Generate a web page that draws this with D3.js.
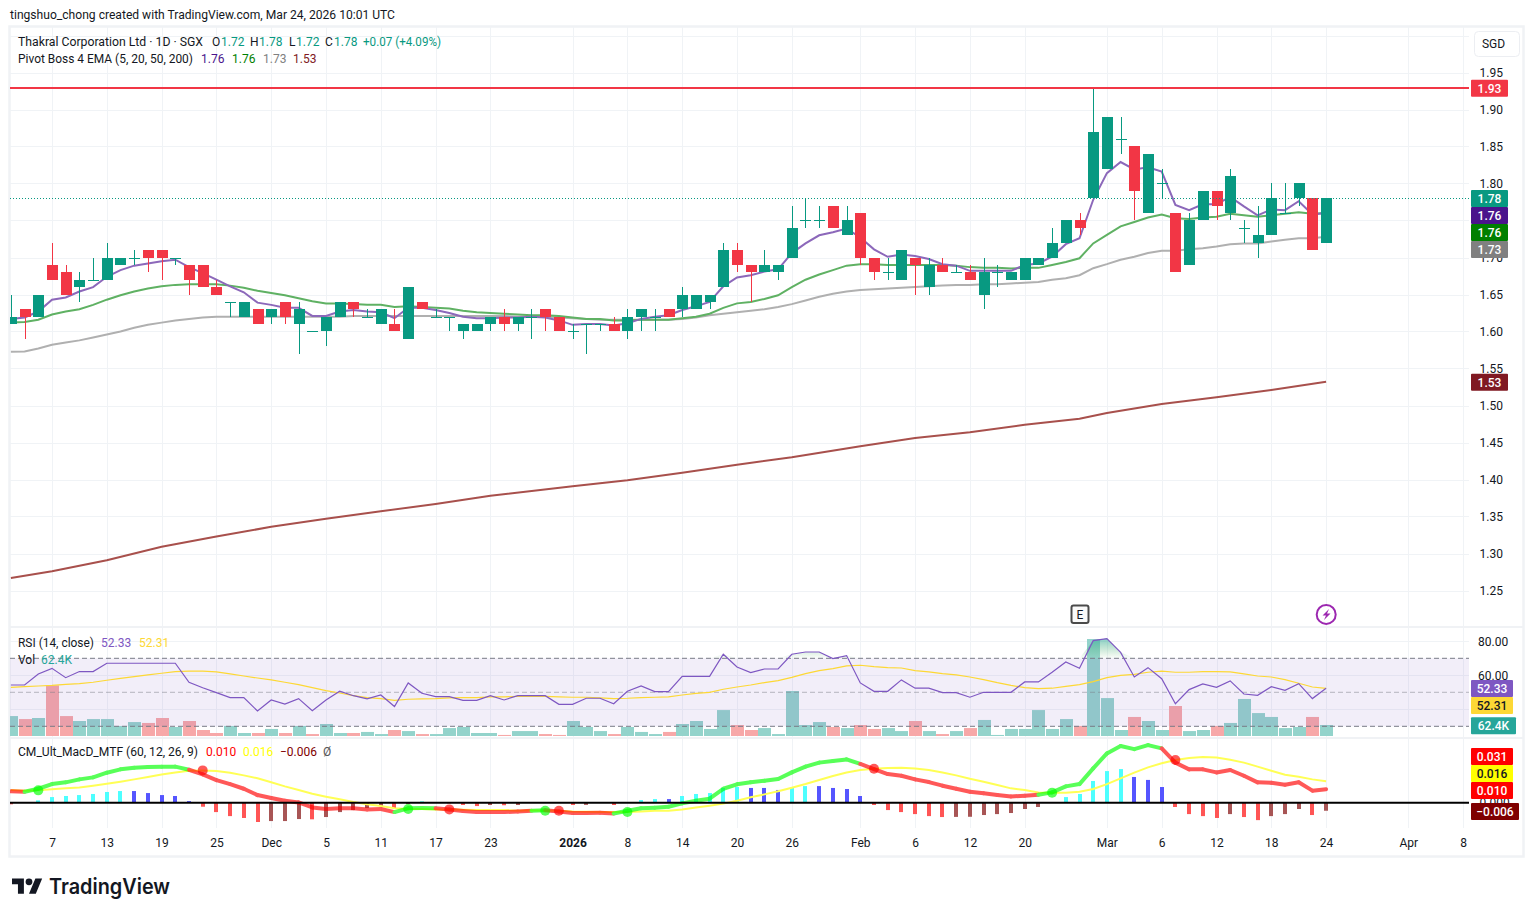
<!DOCTYPE html>
<html>
<head>
<meta charset="utf-8">
<script src="https://cdn.jsdelivr.net/npm/d3@7/dist/d3.min.js"></script>
<style>
html,body{margin:0;padding:0;background:#fff;}
svg{display:block;}
text{font-family:Roboto,"Noto Sans",sans-serif;font-size:12px;fill:#131722;}
</style>
</head>
<body>
<svg id="c" width="1534" height="917"></svg>
<script>
const opens=[1.61,1.63,1.62,1.69,1.68,1.66,1.67,1.67,1.69,1.70,1.71,1.71,1.70,1.69,1.69,1.66,1.64,1.62,1.63,1.62,1.64,1.61,1.60,1.60,1.62,1.64,1.62,1.61,1.61,1.59,1.64,1.62,1.62,1.60,1.60,1.61,1.62,1.61,1.62,1.63,1.62,1.60,1.61,1.61,1.61,1.60,1.62,1.62,1.63,1.63,1.63,1.64,1.66,1.71,1.69,1.68,1.68,1.70,1.75,1.75,1.77,1.73,1.76,1.70,1.68,1.67,1.70,1.66,1.69,1.68,1.68,1.65,1.68,1.67,1.67,1.69,1.70,1.72,1.75,1.78,1.82,1.86,1.85,1.76,1.80,1.76,1.69,1.75,1.79,1.76,1.74,1.72,1.73,1.76,1.78,1.78,1.72];
const closes=[1.62,1.62,1.65,1.67,1.65,1.67,1.67,1.70,1.70,1.70,1.70,1.70,1.70,1.67,1.66,1.65,1.64,1.64,1.61,1.63,1.62,1.63,1.60,1.62,1.64,1.63,1.62,1.63,1.60,1.66,1.63,1.62,1.62,1.61,1.61,1.62,1.61,1.62,1.62,1.62,1.60,1.60,1.61,1.61,1.60,1.62,1.63,1.62,1.62,1.65,1.65,1.65,1.71,1.69,1.68,1.69,1.69,1.74,1.75,1.75,1.74,1.75,1.70,1.68,1.68,1.71,1.69,1.69,1.68,1.68,1.67,1.68,1.68,1.68,1.70,1.70,1.72,1.75,1.74,1.87,1.89,1.86,1.79,1.84,1.80,1.68,1.75,1.79,1.77,1.81,1.74,1.73,1.78,1.76,1.80,1.71,1.78];
const highs=[1.65,1.63,1.65,1.72,1.69,1.68,1.70,1.72,1.70,1.71,1.71,1.71,1.70,1.69,1.69,1.67,1.64,1.64,1.63,1.63,1.64,1.64,1.60,1.62,1.64,1.64,1.63,1.63,1.63,1.66,1.64,1.63,1.62,1.61,1.61,1.62,1.63,1.62,1.63,1.63,1.62,1.61,1.61,1.61,1.62,1.63,1.63,1.63,1.63,1.66,1.65,1.65,1.72,1.72,1.69,1.71,1.69,1.77,1.78,1.77,1.77,1.77,1.76,1.70,1.70,1.71,1.70,1.70,1.70,1.69,1.69,1.70,1.69,1.68,1.70,1.70,1.74,1.75,1.76,1.93,1.89,1.89,1.85,1.84,1.82,1.76,1.76,1.79,1.79,1.82,1.75,1.77,1.80,1.80,1.80,1.78,1.78];
const lows=[1.61,1.59,1.62,1.67,1.65,1.64,1.67,1.67,1.69,1.69,1.68,1.67,1.69,1.65,1.66,1.65,1.62,1.62,1.61,1.61,1.61,1.57,1.60,1.58,1.62,1.62,1.62,1.61,1.60,1.59,1.63,1.62,1.60,1.59,1.60,1.60,1.60,1.60,1.59,1.60,1.60,1.59,1.57,1.60,1.60,1.59,1.60,1.60,1.62,1.62,1.63,1.63,1.66,1.68,1.64,1.68,1.67,1.70,1.74,1.74,1.74,1.73,1.69,1.67,1.67,1.67,1.65,1.65,1.68,1.68,1.67,1.63,1.66,1.67,1.67,1.69,1.70,1.72,1.73,1.78,1.82,1.84,1.75,1.76,1.78,1.68,1.69,1.75,1.75,1.75,1.72,1.70,1.73,1.76,1.77,1.71,1.72];
const ema5=[1.617,1.619,1.627,1.643,1.646,1.654,1.660,1.674,1.683,1.689,1.692,1.695,1.697,1.687,1.679,1.670,1.661,1.653,1.639,1.636,1.632,1.632,1.621,1.621,1.627,1.629,1.627,1.626,1.618,1.632,1.632,1.629,1.625,1.620,1.618,1.618,1.619,1.619,1.620,1.619,1.615,1.609,1.610,1.610,1.608,1.611,1.617,1.620,1.622,1.629,1.634,1.640,1.661,1.673,1.676,1.681,1.684,1.706,1.719,1.730,1.734,1.739,1.727,1.711,1.701,1.704,1.702,1.698,1.691,1.689,1.682,1.682,1.682,1.682,1.690,1.692,1.701,1.718,1.726,1.778,1.814,1.829,1.819,1.822,1.816,1.771,1.764,1.772,1.772,1.782,1.769,1.757,1.765,1.764,1.776,1.758,1.760];
const ema20=[1.612,1.613,1.616,1.623,1.627,1.630,1.636,1.643,1.649,1.654,1.658,1.661,1.663,1.664,1.664,1.664,1.662,1.659,1.655,1.652,1.649,1.645,1.641,1.638,1.638,1.637,1.636,1.636,1.633,1.634,1.633,1.632,1.631,1.628,1.626,1.625,1.624,1.623,1.622,1.622,1.621,1.619,1.617,1.617,1.615,1.615,1.616,1.616,1.616,1.618,1.620,1.624,1.632,1.638,1.640,1.644,1.649,1.660,1.670,1.677,1.683,1.689,1.691,1.691,1.690,1.690,1.690,1.690,1.690,1.689,1.687,1.686,1.686,1.685,1.686,1.686,1.690,1.694,1.699,1.719,1.7305,1.742,1.748,1.754,1.758,1.753,1.752,1.754,1.755,1.759,1.757,1.755,1.757,1.759,1.761,1.759,1.760];
const ema50=[1.5725,1.573,1.577,1.582,1.585,1.588,1.592,1.596,1.600,1.605,1.609,1.612,1.615,1.617,1.619,1.620,1.620,1.620,1.620,1.620,1.620,1.620,1.620,1.620,1.620,1.621,1.621,1.621,1.621,1.621,1.621,1.621,1.621,1.621,1.621,1.621,1.621,1.620,1.620,1.620,1.619,1.618,1.617,1.616,1.616,1.616,1.616,1.616,1.616,1.617,1.619,1.622,1.624,1.626,1.628,1.630,1.633,1.637,1.642,1.647,1.651,1.654,1.656,1.657,1.658,1.659,1.660,1.661,1.662,1.663,1.663,1.664,1.664,1.665,1.666,1.667,1.670,1.672,1.676,1.6855,1.691,1.697,1.701,1.706,1.709,1.709,1.711,1.7125,1.715,1.718,1.719,1.719,1.7215,1.724,1.726,1.726,1.728];
const ema200Bars=[0,3,7,11,15,19,23,27,31,35,41,45,49,53,57,62,66,70,74,78,80,84,88,92,96];
const ema200=[1.267,1.276,1.291,1.309,1.323,1.336,1.347,1.357,1.367,1.378,1.391,1.399,1.409,1.420,1.430,1.445,1.456,1.464,1.474,1.482,1.490,1.502,1.511,1.521,1.532];
const rsi=[54.3,54.3,60.8,64.1,58.6,62.2,62.2,67.1,67.1,67.1,67.1,67.1,67.1,55.9,52.7,49.8,46.9,46.9,39.0,45.5,43.1,46.3,39.2,45.5,50.6,48.0,46.1,48.4,41.6,55.5,49.4,47.5,47.5,45.3,45.3,48.0,45.5,48.0,48.0,48.0,42.9,42.9,46.5,46.5,43.3,50.6,53.7,50.4,50.4,59.4,59.4,59.4,72.4,64.9,61.6,63.7,63.7,72.4,73.7,73.7,69.8,71.6,55.5,50.6,50.6,57.3,52.4,52.4,49.8,49.8,47.1,50.0,50.0,50.0,56.1,56.1,61.8,67.8,64.1,80.4,81.6,73.5,59.0,64.5,58.0,43.3,51.6,54.9,52.9,56.7,49.0,48.2,53.3,51.2,55.1,46.3,52.33];
const rsiMa=[52.9,53.3,53.7,54.1,54.7,55.1,55.9,57.1,58.2,59.2,60.2,61.2,62.2,62.4,62.4,62.0,60.8,59.6,58.4,57.3,55.9,54.5,52.7,51.0,49.6,48.0,46.9,46.3,45.3,45.9,46.1,46.3,46.7,46.9,46.9,47.3,47.3,47.6,47.6,47.6,47.3,47.1,47.1,46.7,46.3,46.5,46.9,47.1,47.3,48.4,49.4,50.0,51.8,53.1,54.3,55.7,56.9,58.8,61.0,62.7,63.9,65.5,65.9,65.1,64.5,64.3,62.7,62.0,61.0,60.2,59.0,57.5,55.7,54.1,52.7,52.2,52.4,53.5,54.5,56.3,58.6,60.0,60.6,61.8,62.4,61.8,61.8,62.2,62.2,62.0,60.8,59.6,59.0,57.5,55.3,53.1,52.31];
const volumeK=[113,96,102,287,113,85,96,96,57,79,74,102,51,85,34,17,57,17,17,40,17,57,11,68,17,17,23,11,34,28,11,11,45,51,17,17,6,28,28,11,6,85,51,28,11,51,23,11,23,68,85,40,147,62,34,45,11,255,62,79,51,45,62,40,45,28,85,28,11,28,45,91,6,40,40,147,40,96,57,550,215,34,108,85,34,170,28,34,57,74,210,130,108,45,51,108,62.4];
const volumeDownDoji=[22];
const macd=[8.5,8.2,10.4,13.9,15.2,17.4,18.9,22.4,24.9,26.1,26.6,26.9,26.9,24.6,21.1,16.9,13.9,10.4,5.7,3.5,1.5,0.2,-3.5,-4.7,-4.2,-4.2,-5.0,-4.7,-7.0,-4.2,-4.0,-4.2,-5.0,-6.2,-7.0,-7.0,-7.0,-6.5,-6.0,-5.7,-6.5,-7.7,-7.7,-7.5,-8.0,-6.0,-4.2,-3.7,-3.0,-0.5,1.5,3.0,10.4,13.7,15.2,16.4,17.7,22.6,26.9,29.9,31.1,32.3,28.9,25.1,21.4,20.1,17.4,15.4,12.7,10.4,8.2,7.0,5.7,4.7,5.2,6.0,7.7,12.2,13.9,25.6,36.8,42.3,40.0,43.0,40.5,29.9,24.9,24.9,22.6,24.4,20.1,15.2,14.9,13.4,15.2,9.0,10.0];
const macdSignal=[9.5,9.0,9.2,10,10.7,11.4,12.7,14.2,15.7,17.4,19.2,21.1,22.6,23.9,24.1,23.6,22.4,20.4,18.2,15.2,12.2,9.5,6.7,4.5,2.5,0.5,-1.2,-2.5,-4.2,-4.7,-4.7,-5,-5,-5.2,-5.5,-5.5,-5.5,-6,-5.7,-6,-6,-6.5,-6.7,-7,-7,-7,-6.5,-6,-6,-5,-3.5,-2.2,-0.7,1.5,4,6.2,8.5,11.2,13.9,16.9,19.9,22.6,24.4,25.4,25.9,26.1,25.6,24.4,22.6,20.4,17.9,15.7,13.2,10.7,9.5,7.7,7.5,7.5,8.2,10.2,13.9,18.2,22.4,26.4,29.4,31.8,33.3,34.1,33.8,32.1,29.9,26.9,23.9,20.9,19.4,17.4,16];
const macdHist=[-1.2,0,1.7,4.2,5,5.7,6.5,8,8.7,8.7,7.2,5.7,5,1.2,-3,-7,-10,-11.4,-14.4,-13.7,-13.7,-12.2,-12.4,-10.7,-7,-5.5,-4,-2.5,-4,-1,1,0.3,-0.5,-1.7,-2.5,-1.7,-1.9,-1.7,0,0,0,-1.7,-1.6,0,-1.7,0,2,2.7,2.7,5,6.5,7.2,11,11.7,11,11,9.5,11.7,12.4,12.4,11,10.2,5,-1.7,-5.5,-7,-8.5,-10,-10.7,-10.6,-10.5,-9.2,-8.5,-7.7,-4.7,-3.2,0,4.2,6.5,16.2,23.6,25.1,19.2,17,11.7,-3.2,-8.5,-10,-11.4,-8.5,-10.7,-13,-10,-8.5,-4.7,-9.2,-6];
const crossUp=[2,29,39,45,76];
const crossDown=[14,32,40,63,85];
const timeTickBars=[3,7,11,15,19,23,27,31,35,41,45,49,53,57,62,66,70,74,80,84,88,92,96,102,106];
const timeTickLabels=["7","13","19","25","Dec","5","11","17","23","2026","8","14","20","26","Feb","6","12","20","Mar","6","12","18","24","Apr","8"];
const priceTicks=[1.25,1.30,1.35,1.40,1.45,1.50,1.55,1.60,1.65,1.70,1.75,1.80,1.85,1.90,1.95];
const priceGrid=[2.00,...priceTicks];
const rsiTicks=[60,80];
const rsiGrid=[40,60,80];
const resistance=1.93;
const lastClose=1.78;
const priceLabels=[["1.93","#f23645"],["1.78","#089981"],["1.76","#4a148c"],["1.76","#008000"],["1.73","#808080"],["1.53","#801922"]];
const rsiLabels=[["52.33","#7e57c2","#fff"],["52.31","#fdd835","#131722"]];
const macdLabels=[["0.031","#ff0000","#fff"],["0.016","#ffff00","#131722"],["0.010","#ff0000","#fff"],["\u22120.006","#7f0000","#fff"]];

const green="#089981",red="#f23645";
const svg=d3.select("#c");
const L=10,R=1469,T=27,B=857;
const n=closes.length;
const x=d3.scaleLinear().domain([0,106]).range([10.9,1463.1]);
const y=d3.scaleLinear().domain([1.25,1.95]).range([590.5,72.5]);
const yR=d3.scaleLinear().domain([30,70]).range([726.3,658.3]);
const yV=d3.scaleLinear().domain([0,550]).range([736,639]);
const yM=d3.scaleLinear().domain([0,0.01]).range([802.7,789.3]);
const cx=i=>Math.round(x(i))+0.5;

const defs=svg.append("defs");
defs.append("clipPath").attr("id","pane").append("rect").attr("x",L).attr("y",T).attr("width",R-L).attr("height",B-T);
const grad=defs.append("linearGradient").attr("id","ob").attr("x1",0).attr("x2",0).attr("y1",0).attr("y2",1);
grad.append("stop").attr("offset","0%").attr("stop-color","#26a69a").attr("stop-opacity",0.55);
grad.append("stop").attr("offset","100%").attr("stop-color","#4caf50").attr("stop-opacity",0.02);

svg.append("rect").attr("x",9.5).attr("y",26.5).attr("width",1514).attr("height",830).attr("fill","none").attr("stroke","#f0f2f5").attr("stroke-width",2.5);

const pane=svg.append("g").attr("clip-path","url(#pane)");
const gridC="#f0f3f6";
pane.selectAll(".vg").data(timeTickBars).join("rect").attr("x",d=>Math.round(x(d))).attr("y",T).attr("width",1).attr("height",828-T).attr("fill",gridC);
pane.selectAll(".hg").data(priceGrid).join("rect").attr("x",L).attr("y",d=>Math.round(y(d))).attr("width",R-L).attr("height",1).attr("fill",gridC);
pane.selectAll(".rg").data(rsiGrid).join("rect").attr("x",L).attr("y",d=>Math.round(yR(d))).attr("width",R-L).attr("height",1).attr("fill",gridC);
[627,738].forEach(v=>svg.append("rect").attr("x",L).attr("y",v-1).attr("width",1514).attr("height",2).attr("fill","#f0f2f5"));

// volume
const volDown=(i)=>closes[i]<opens[i]||volumeDownDoji.includes(i);
pane.selectAll(".vol").data(volumeK).join("rect")
 .attr("x",(d,i)=>Math.round(x(i))-6).attr("width",13)
 .attr("y",d=>yV(d)).attr("height",d=>736-yV(d))
 .attr("fill",(d,i)=>volDown(i)?"#f7a8a8":"#93d3cb");

// RSI band
pane.append("rect").attr("x",L).attr("width",R-L).attr("y",yR(70)).attr("height",yR(30)-yR(70)).attr("fill","#7e57c2").attr("fill-opacity",0.1);
[[70,1],[50,0.5],[30,1]].forEach(([v,o])=>pane.append("line").attr("x1",L).attr("x2",R).attr("y1",yR(v)).attr("y2",yR(v)).attr("stroke","#787b86").attr("stroke-opacity",o).attr("stroke-dasharray","5,3"));
const idx=d3.range(n);
pane.append("path").datum(idx).attr("d",d3.area().x(x).y0(yR(70)).y1(i=>yR(Math.max(rsi[i],70)))).attr("fill","url(#ob)");
pane.append("path").datum(rsiMa).attr("d",d3.line().x((d,i)=>x(i)).y(d=>yR(d))).attr("fill","none").attr("stroke","#fdd835").attr("stroke-width",1.2);
pane.append("path").datum(rsi).attr("d",d3.line().x((d,i)=>x(i)).y(d=>yR(d))).attr("fill","none").attr("stroke","#7e57c2").attr("stroke-width",1.2);

// price lines
const lineP=d3.line().x((d,i)=>x(i)).y(d=>y(d));
pane.append("path").datum(ema200).attr("d",d3.line().x((d,i)=>x(ema200Bars[i])).y(d=>y(d))).attr("fill","none").attr("stroke","#a8504c").attr("stroke-width",2);
pane.append("path").datum(ema50).attr("d",lineP).attr("fill","none").attr("stroke","#b0b0b0").attr("stroke-width",2);
pane.append("path").datum(ema20).attr("d",lineP).attr("fill","none").attr("stroke","#5fb163").attr("stroke-width",2);
pane.append("path").datum(ema5).attr("d",lineP).attr("fill","none").attr("stroke","#8c68ba").attr("stroke-width",2);

// candles
const cg=pane.append("g");
cg.selectAll(".wick").data(idx).join("rect").attr("x",i=>cx(i)-0.5).attr("width",1)
 .attr("y",i=>Math.round(y(highs[i]))).attr("height",i=>Math.round(y(lows[i]))-Math.round(y(highs[i])))
 .attr("fill",i=>closes[i]>=opens[i]?green:red);
cg.selectAll(".body").data(idx).join("rect").attr("x",i=>cx(i)-5.5).attr("width",11)
 .attr("y",i=>Math.round(y(Math.max(opens[i],closes[i]))))
 .attr("height",i=>Math.max(1,Math.round(y(Math.min(opens[i],closes[i])))-Math.round(y(Math.max(opens[i],closes[i])))))
 .attr("fill",i=>closes[i]>=opens[i]?green:red);

const yRes=Math.floor(y(resistance))+1;
pane.append("line").attr("x1",L).attr("x2",R).attr("y1",yRes).attr("y2",yRes).attr("stroke",red).attr("stroke-width",2);
pane.append("line").attr("x1",L).attr("x2",R).attr("y1",Math.round(y(lastClose))+0.5).attr("y2",Math.round(y(lastClose))+0.5).attr("stroke",green).attr("stroke-dasharray","1,2");

// MACD
const histColor=(d,i)=>{const p=i>0?macdHist[i-1]:0;return d>0?(d>p?"#4dffff":"#5555ff"):(d<p?"#ff5555":"#a85555");};
pane.selectAll(".h").data(macdHist).join("rect").attr("x",(d,i)=>Math.round(x(i))-2).attr("width",4)
 .attr("y",d=>d>=0?yM(d/1000):yM(0)).attr("height",d=>Math.abs(yM(d/1000)-yM(0))).attr("fill",histColor);
const events=[...crossUp.map(i=>[i,true]),...crossDown.map(i=>[i,false])].sort((a,b)=>a[0]-b[0]);
const isUp=i=>{let s=false;events.forEach(e=>{if(e[0]<=i)s=e[1];});return s;};
pane.append("path").datum(macdSignal).attr("d",d3.line().x((d,i)=>x(i)).y(d=>yM(d/1000))).attr("fill","none").attr("stroke","#ffff55").attr("stroke-width",2);
const mg=pane.append("g").attr("opacity",0.65);
d3.range(1,n).forEach(i=>{
 mg.append("line").attr("x1",x(i-1)).attr("x2",x(i)).attr("y1",yM(macd[i-1]/1000)).attr("y2",yM(macd[i]/1000))
  .attr("stroke",isUp(i)?"#00ff00":"#ff0000").attr("stroke-width",4).attr("stroke-linecap","round");
});
events.forEach(([i,u])=>pane.append("circle").attr("cx",x(i)).attr("cy",yM(macdSignal[i]/1000)).attr("r",5).attr("fill",u?"#00ff00":"#ff0000").attr("fill-opacity",0.65));
svg.append("line").attr("x1",L).attr("x2",R).attr("y1",yM(0)).attr("y2",yM(0)).attr("stroke","#000").attr("stroke-width",2);

// axes
const axR=(sc,vals,fmt)=>d3.axisRight(sc).tickValues(vals).tickFormat(fmt).tickSize(0).tickPadding(0);
const gP=svg.append("g").attr("transform","translate(1479.5,0)").call(axR(y,priceTicks,d3.format(".2f")));
const gR=svg.append("g").attr("transform","translate(1478,0)").call(axR(yR,rsiTicks,d3.format(".2f")));
const gM=svg.append("g").attr("transform","translate(1479.5,0)").call(d3.axisRight(d3.scaleLinear().domain([0,1]).range([yM(0),yM(1)])).tickValues([0]).tickFormat(()=>"0.000").tickSize(0).tickPadding(0));
const gX=svg.append("g").attr("transform","translate(0,838)").call(d3.axisBottom(x).tickValues(timeTickBars).tickFormat((d,i)=>timeTickLabels[i]).tickSize(0).tickPadding(0));
[gP,gR,gM,gX].forEach(g=>{g.select(".domain").remove();g.selectAll("text").attr("fill",null).style("font-family","Roboto,sans-serif").style("font-size","12px").style("fill","#131722");});
gX.selectAll("text").filter((d,i)=>timeTickLabels[i]==="2026").style("font-weight",700);

// price tags
const tag=(xx,w,cy,bg,fg,txt)=>{
 svg.append("rect").attr("x",xx).attr("y",cy-8.5).attr("width",w).attr("height",17).attr("fill",bg).attr("rx",1);
 svg.append("text").attr("x",xx+w/2).attr("y",cy).attr("dy","0.35em").attr("text-anchor","middle").style("fill",fg).style("font-weight",500).text(txt);
};
const tagYs=[88.3,198.5,215.5,232.5,249.5,382.3];
priceLabels.forEach((d,i)=>tag(1471,37,tagYs[i],d[1],"#fff",d[0]));
rsiLabels.forEach((d,i)=>tag(1471,42,[688.5,705.5][i],d[1],d[2],d[0]));
tag(1471,45,725.7,"#26a69a","#fff","62.4K");
macdLabels.forEach((d,i)=>tag(1471,i===3?48:42,[756.5,773.5,790.5,811.5][i],d[1],d[2],d[0]));

// texts
const t=(xx,yy,s,col,w)=>{const e=svg.append("text").attr("x",xx).attr("y",yy).attr("dy","0.35em").text(s);if(col)e.style("fill",col);if(w)e.attr("textLength",w).attr("lengthAdjust","spacingAndGlyphs");return e;};
t(10,15,"tingshuo_chong created with TradingView.com, Mar 24, 2026 10:01 UTC",null,385);
t(18,42,"Thakral Corporation Ltd \u00b7 1D \u00b7 SGX",null,185);
[["O",212],["H",250],["L",289],["C",325]].forEach(d=>t(d[1],42,d[0]));
[["1.72",221],["1.78",259],["1.72",296],["1.78",334]].forEach(d=>t(d[1],42,d[0],green));
t(363,42,"+0.07 (+4.09%)",green,78);
t(18,59,"Pivot Boss 4 EMA (5, 20, 50, 200)",null,175);
t(201,59,"1.76","#4a148c");t(232,59,"1.76","#008000");t(263,59,"1.73","#808080");t(293,59,"1.53","#801922");
t(18,643,"RSI (14, close)",null,76);t(101,643,"52.33","#7e57c2");t(139,643,"52.31","#fdd835");
t(18,660,"Vol");t(41,660,"62.4K","#26a69a");
t(18,752,"CM_Ult_MacD_MTF (60, 12, 26, 9)",null,180);
t(206,752,"0.010","#ff0000");t(243,752,"0.016","#ffff00");t(280,752,"\u22120.006","#7f0000");t(323,752,"\u00d8","#555");

// currency button
svg.append("rect").attr("x",1474.5).attr("y",31.5).attr("width",45).attr("height",25).attr("rx",4).attr("fill","#fff").attr("stroke","#eceef2");
svg.append("text").attr("x",1493.5).attr("y",44).attr("dy","0.35em").attr("text-anchor","middle").text("SGD");

// markers
svg.append("rect").attr("x",1071.5).attr("y",605.5).attr("width",17).attr("height",17.5).attr("rx",2).attr("fill","#fafafa").attr("stroke","#4a4a4a").attr("stroke-width",2);
svg.append("text").attr("x",1080).attr("y",614.5).attr("dy","0.35em").attr("text-anchor","middle").text("E");
svg.append("circle").attr("cx",1326.2).attr("cy",614.4).attr("r",9.5).attr("fill","#fff").attr("stroke","#9c27b0").attr("stroke-width",2);
svg.append("path").attr("d","M1329 609 L1322.5 615.5 L1326 615.5 L1324 620 L1330.5 613.5 L1327 613.5 Z").attr("fill","#9c27b0");

// logo
svg.append("path").attr("transform","translate(12,875) scale(0.85)").attr("d","M14 22H7V11H0V4h14v18zM28 22h-8l7.5-18h8L28 22z").attr("fill","#131722");
svg.append("circle").attr("cx",12+20*0.85).attr("cy",875+8*0.85).attr("r",4*0.85).attr("fill","#131722");
svg.append("text").attr("x",49).attr("y",887).attr("dy","0.35em").style("font-size","21px").style("font-weight",600).style("font-family","Inter,Roboto,sans-serif").attr("textLength",121).attr("lengthAdjust","spacingAndGlyphs").text("TradingView");
</script>
</body>
</html>
